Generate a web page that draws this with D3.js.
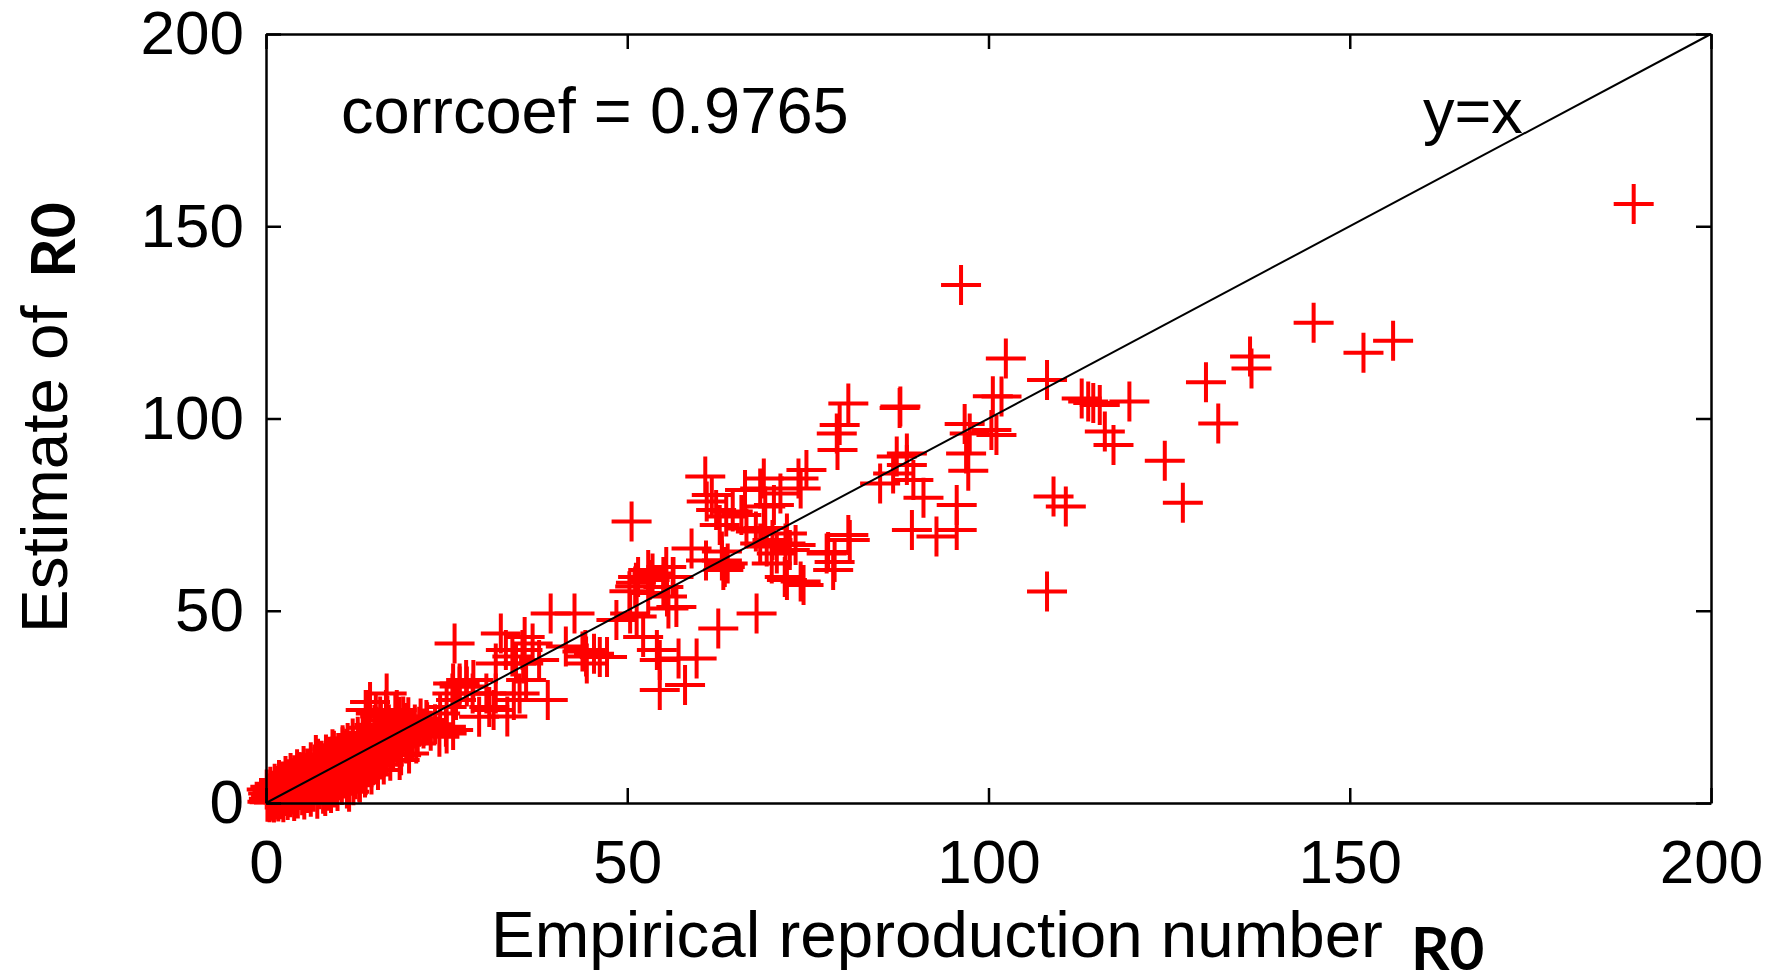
<!DOCTYPE html>
<html>
<head>
<meta charset="utf-8">
<script src="https://cdn.jsdelivr.net/npm/d3@7"></script>
<style>
  body { margin: 0; background: #fff; }
  svg { display: block; }
</style>
</head>
<body>
<div class="chart-wrapper"></div>
<script>
// axis ticks
const xTicks = [0, 50, 100, 150, 200];
const yTicks = [0, 50, 100, 150, 200];

// empirical R0 (x) / estimate of R0 (y)
// dense cluster near the origin
const clusterX = [0.2, 0.4, 0.5, 0.7, 0.8, 1.0, 1.1, 1.2, 1.3, 1.5, 1.6, 1.7, 1.9, 2.0, 2.1, 2.2, 2.4, 2.5, 2.6, 2.8,
    2.9, 3.0, 3.1, 3.3, 3.4, 3.5, 3.6, 3.8, 3.9, 4.0, 4.1, 4.2, 4.4, 4.5, 4.6, 4.8, 4.9, 5.0, 5.1, 5.3,
    5.4, 5.5, 5.6, 5.8, 5.9, 6.0, 6.1, 6.2, 6.4, 6.5, 6.6, 6.8, 6.9, 7.0, 7.1, 7.3, 7.4, 7.5, 7.6, 7.8,
    7.9, 8.0, 8.1, 8.2, 8.3, 8.5, 8.6, 8.7, 8.9, 9.0, 9.1, 9.2, 9.4, 9.5, 9.6, 9.8, 9.9, 10.0, 10.1, 10.3,
    10.4, 10.5, 10.7, 10.8, 11.0, 11.1, 11.2, 11.3, 11.5, 11.6, 11.7, 11.9, 12.0, 12.1, 12.2, 12.4, 12.5, 12.6, 12.8, 12.9,
    13.0, 13.1, 13.3, 13.4, 13.6, 13.7, 13.9, 14.0, 14.2, 14.3, 14.5, 14.6, 14.8, 15.0, 15.1, 15.3, 15.5, 15.6, 15.8, 16.0,
    16.1, 16.3, 16.5, 16.7, 16.9, 17.0, 17.2, 17.4, 17.6, 17.8, 18.0, 18.2, 18.5, 18.7, 18.9, 19.2, 19.4, 19.7, 20.0, 20.3,
    20.6, 21.0, 21.4, 21.8, 22.3, 22.8, 23.4];
const clusterY = [0.3, 1.1, 0.2, 2.0, 0.6, 1.4, 0.1, 2.8, 0.9, 1.7, 3.5, 0.4, 2.3, 1.0, 4.2, 2.9, 0.2, 1.8, 3.6, 5.0,
    2.4, 0.8, 4.4, 3.0, 1.5, 5.8, 2.2, 3.9, 0.5, 6.3, 4.8, 2.7, 1.2, 5.5, 3.4, 7.1, 4.1, 2.0, 6.0, 0.9,
    3.1, 7.6, 4.9, 2.6, 6.6, 8.4, 3.9, 1.6, 5.4, 7.2, 2.9, 9.0, 4.6, 6.2, 1.1, 8.0, 3.6, 5.1, 10.2, 7.0,
    2.4, 4.4, 9.1, 1.8, 6.0, 11.0, 3.2, 7.8, 5.1, 2.6, 9.8, 12.1, 6.8, 4.0, 8.5, 11.0, 3.1, 5.9, 13.0, 7.6,
    9.7, 4.7, 12.0, 6.4, 10.4, 14.1, 3.8, 8.4, 5.5, 12.6, 7.1, 10.0, 14.9, 4.6, 9.1, 6.2, 13.1, 11.2, 7.9, 15.7,
    5.3, 10.1, 12.3, 8.7, 16.6, 6.6, 11.0, 14.0, 9.4, 17.4, 12.7, 7.4, 15.3, 10.5, 13.4, 18.5, 8.6, 16.2, 11.7, 14.5,
    19.3, 10.0, 17.3, 12.9, 15.2, 20.4, 11.0, 18.0, 13.9, 16.4, 21.2, 14.7, 19.1, 12.4, 17.2, 20.0, 15.5, 22.3, 18.1, 16.2,
    20.4, 17.5, 22.0, 19.4, 21.0, 18.8, 20.5];

// upper edge of the cluster
const edgeX = [0.1, 0.3, 0.6, 0.9, 1.2, 1.5, 1.8, 2.3, 2.7, 3.0, 3.4, 3.9, 4.3, 4.7, 5.2, 5.7, 6.2, 6.7, 7.2, 7.7,
    8.3, 8.8, 9.4, 10.0, 10.6, 11.3, 12.0, 12.7, 13.4, 14.2, 15.0, 15.9, 16.8, 17.9];
const edgeY = [3.5, 2.5, 4.2, 3.2, 5.0, 4.4, 6.0, 5.6, 7.0, 6.2, 7.8, 7.2, 8.8, 8.0, 9.6, 9.0, 10.6, 10.0, 11.5, 11.0,
    12.6, 12.0, 13.6, 13.0, 15.0, 15.6, 16.8, 17.2, 18.2, 19.6, 20.3, 21.5, 22.6, 23.4];

// 10 - 50
const lowX = [39.4, 42.7, 26.1, 32.5, 35.8, 35.5, 36.9, 34.1, 31.8, 41.5, 43.8, 44.3, 39.0, 36.0, 35.1, 31.8, 30.9, 29.5, 27.7, 26.8,
    26.3, 25.8, 28.6, 24.9, 24.0, 16.6, 15.2, 13.8, 18.5, 19.4, 17.5, 21.2, 20.8, 19.8, 18.5, 16.1, 15.7, 9.2, 6.9, 10.6,
    9.7, 4.6, 3.7, 2.8, 13.8, 11.5, 14.8, 12.9, 16.7, 14.4, 14.0, 18.1, 19.0, 19.5, 15.8, 15.3, 22.2, 25.0, 25.9, 28.7,
    27.8, 25.9, 26.8, 30.5, 31.5, 33.4, 34.3, 35.6, 25.0, 24.1, 33.2, 34.6, 37.8, 47.2, 44.4, 45.4];
const lowY = [49.3, 49.3, 41.5, 44.1, 43.2, 39.8, 41.5, 38.1, 36.3, 40.7, 39.4, 38.1, 26.8, 32.0, 28.5, 28.5, 25.0, 22.4, 32.0, 30.3,
    26.8, 28.5, 28.5, 19.8, 17.2, 24.2, 23.3, 24.2, 22.4, 19.8, 18.9, 19.8, 15.5, 12.9, 11.2, 16.4, 14.7, 14.0, 12.5, 14.5,
    12.0, 8.0, 6.5, 5.5, 7.2, 2.9, 9.8, 5.5, 28.5, 26.3, 24.2, 24.2, 22.5, 20.8, 22.5, 19.8, 21.6, 18.1, 19.0, 32.0,
    30.3, 31.1, 31.1, 28.5, 24.2, 22.5, 26.8, 36.3, 25.0, 23.3, 39.8, 36.3, 37.2, 38.0, 36.3, 38.8];

// 40 - 90
const midX = [50.6, 60.8, 61.0, 61.7, 62.3, 63.7, 64.6, 62.8, 65.8, 66.5, 66.3, 68.9, 68.4, 69.1, 70.3, 71.2, 73.7, 74.8, 74.0, 79.1,
    79.0, 80.6, 79.4, 87.8, 67.8, 68.9, 70.1, 71.9, 73.3, 58.9, 60.9, 63.1, 63.5, 63.9, 55.4, 53.5, 51.5, 52.9, 56.3, 55.0,
    50.3, 51.2, 77.8, 78.7, 80.6, 74.0, 72.1, 63.1, 63.3, 68.4, 69.3, 72.1, 72.5, 70.7, 70.0, 74.4, 71.8, 67.9, 62.6, 55.7,
    51.3, 50.4, 53.1, 55.0, 56.4, 51.1, 52.9, 55.5, 56.8, 44.2, 46.2, 54.1, 54.5, 57.1, 59.6, 54.5, 58.0, 52.2, 80.8, 78.5,
    77.6, 48.5];
const midY = [73.2, 84.9, 78.4, 80.1, 76.2, 74.5, 75.8, 72.3, 74.9, 71.4, 81.4, 84.4, 81.8, 77.1, 77.5, 80.5, 84.4, 86.6, 81.8, 91.8,
    96.1, 103.9, 98.3, 103.1, 70.6, 71.5, 68.4, 67.5, 67.1, 66.2, 63.1, 63.1, 61.4, 62.3, 61.4, 59.7, 58.8, 60.6, 58.8, 56.2,
    55.1, 57.3, 65.3, 62.7, 69.7, 57.6, 58.0, 65.4, 60.6, 67.5, 66.7, 70.1, 65.8, 64.9, 62.3, 56.7, 58.8, 49.3, 45.4, 50.6,
    48.5, 49.3, 58.0, 58.8, 58.8, 56.3, 54.6, 53.7, 51.0, 39.8, 38.0, 39.8, 37.2, 37.6, 37.6, 29.4, 30.7, 43.2, 68.4, 60.6,
    64.9, 47.6];

// 85 - 200
const highX = [85.0, 88.7, 86.8, 89.6, 91.0, 95.6, 89.4, 92.8, 95.6, 97.4, 96.9, 97.2, 101.1, 100.4, 96.7, 108.1, 109.0, 110.7, 96.2, 102.4,
    108.1, 100.6, 101.8, 87.7, 112.9, 113.8, 114.5, 115.4, 119.5, 116.1, 117.3, 124.4, 126.9, 130.1, 131.8, 136.2, 136.4, 145.0, 151.9, 156.0,
    189.3, 87.3, 88.7];
const highY = [83.1, 87.9, 85.7, 84.0, 79.4, 77.5, 71.0, 69.3, 71.0, 96.1, 90.9, 86.4, 95.7, 97.0, 98.6, 55.0, 79.7, 77.1, 134.7, 115.6,
    110.0, 105.8, 105.7, 102.7, 105.2, 104.4, 104.0, 103.5, 104.4, 96.6, 93.1, 89.0, 78.1, 109.4, 98.7, 116.1, 113.0, 124.9, 117.1, 120.2,
    155.8, 90.1, 90.9];

const empiricalR0 = clusterX.concat(edgeX, lowX, midX, highX);
const estimateR0 = clusterY.concat(edgeY, lowY, midY, highY);

const width = 1773;
const height = 975;
const plot = { left: 266, right: 1711, top: 34, bottom: 803 };
const tickFont = '"Liberation Sans", Arial, sans-serif';
const boldFont = 'Lato, "Open Sans", sans-serif';
const markSize = 20;

let canvas = d3.select('.chart-wrapper').append('svg')
    .attr('width', width)
    .attr('height', height);

let x = d3.scaleLinear().domain([0, 200]).range([plot.left, plot.right]);
let y = d3.scaleLinear().domain([0, 200]).range([plot.bottom, plot.top]);

// markers
canvas.append('g')
    .attr('class', 'markers')
    .selectAll('path')
    .data(empiricalR0)
    .enter()
    .append('path')
    .attr('transform', (d, i) => `translate(${x(d)},${y(estimateR0[i])})`)
    .attr('d', `M${-markSize},0H${markSize}M0,${-markSize}V${markSize}`)
    .attr('stroke', '#ff0000')
    .attr('stroke-width', 4)
    .attr('fill', 'none');

// y = x reference line
canvas.append('line')
    .attr('x1', x(0)).attr('y1', y(0))
    .attr('x2', x(200)).attr('y2', y(200))
    .attr('stroke', '#000')
    .attr('stroke-width', 2);

function styleAxis(g) {
    g.attr('font-family', tickFont).attr('font-size', 62);
    g.selectAll('.domain').attr('stroke-width', 2.5);
    g.selectAll('.tick line').attr('stroke-width', 2.5);
    g.selectAll('.tick text').attr('fill', '#000');
}

canvas.append('g')
    .attr('transform', `translate(0,${plot.bottom})`)
    .call(d3.axisBottom(x).tickValues(xTicks).tickSizeInner(-15).tickSizeOuter(0).tickPadding(36))
    .call(styleAxis);

canvas.append('g')
    .attr('transform', `translate(${plot.left},0)`)
    .call(d3.axisLeft(y).tickValues(yTicks).tickSizeInner(-15).tickSizeOuter(0).tickPadding(22))
    .call(styleAxis);

canvas.append('g')
    .attr('transform', `translate(0,${plot.top})`)
    .call(d3.axisTop(x).tickValues(xTicks).tickSizeInner(-15).tickSizeOuter(0).tickFormat(''))
    .call(styleAxis);

canvas.append('g')
    .attr('transform', `translate(${plot.right},0)`)
    .call(d3.axisRight(y).tickValues(yTicks).tickSizeInner(-15).tickSizeOuter(0).tickFormat(''))
    .call(styleAxis);

// annotations
canvas.append('text')
    .attr('x', 341).attr('y', 133)
    .attr('font-family', tickFont).attr('font-size', 65)
    .text('corrcoef = 0.9765');

canvas.append('text')
    .attr('x', 1423).attr('y', 133)
    .attr('font-family', tickFont).attr('font-size', 63)
    .text('y=x');

// axis titles
canvas.append('text')
    .attr('x', 491).attr('y', 957)
    .attr('font-family', tickFont).attr('font-size', 65.5)
    .text('Empirical reproduction number');

canvas.append('text')
    .attr('x', 1411).attr('y', 970)
    .attr('font-family', boldFont).attr('font-weight', 700).attr('font-size', 60)
    .text('R0');

canvas.append('text')
    .attr('transform', 'translate(67,633) rotate(-90)')
    .attr('font-family', tickFont).attr('font-size', 65.5)
    .text('Estimate of');

canvas.append('text')
    .attr('transform', 'translate(75,278) rotate(-90)')
    .attr('font-family', boldFont).attr('font-weight', 700).attr('font-size', 62)
    .text('R0');
</script>
</body>
</html>
